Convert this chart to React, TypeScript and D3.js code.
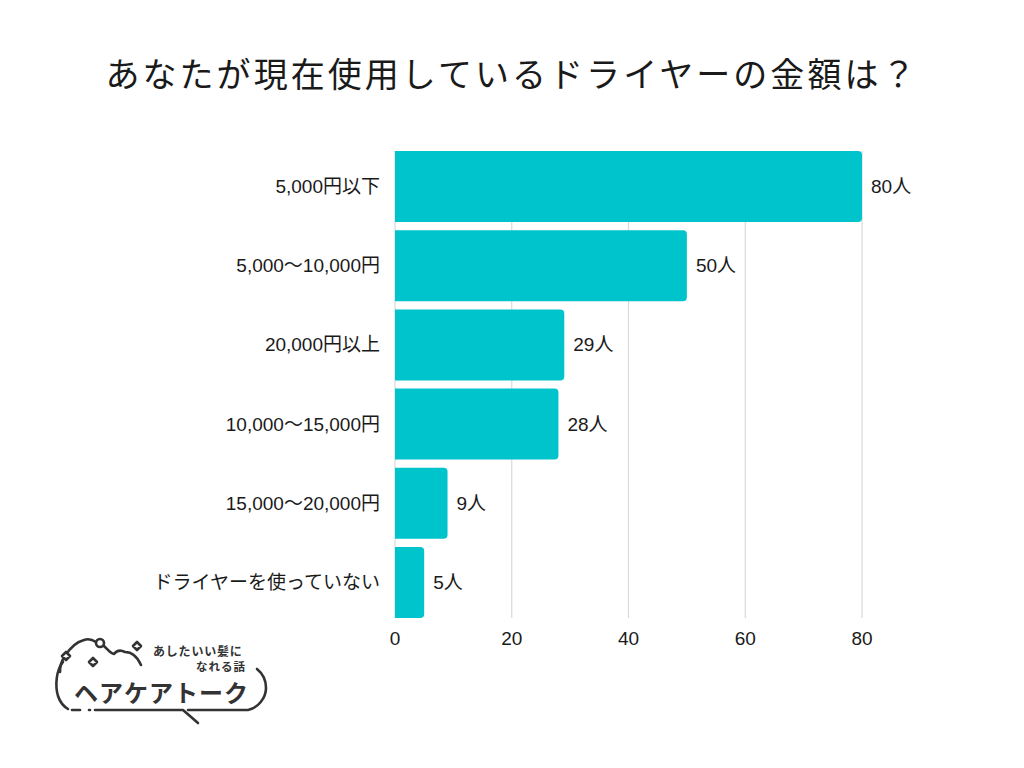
import React from "react";
import * as d3 from "d3";

const title = "あなたが現在使用しているドライヤーの金額は？";
const categories = [
  "5,000円以下",
  "5,000〜10,000円",
  "20,000円以上",
  "10,000〜15,000円",
  "15,000〜20,000円",
  "ドライヤーを使っていない",
];
const values = [80, 50, 29, 28, 9, 5];
const unit = "人";
const ticks = [0, 20, 40, 60, 80];

const BAR = "#00C4CC";
const TEXT = "#1a1a1a";
const FONT = "'Liberation Sans', Arial, 'Noto Sans CJK JP', sans-serif";
const CJK = "'Noto Sans CJK JP', 'Noto Sans', sans-serif";

function barPath(x0: number, x1: number, y0: number, h: number, r: number) {
  const rr = Math.min(r, (x1 - x0) / 2, h / 2);
  const p = d3.path();
  p.moveTo(x0, y0);
  p.lineTo(x1 - rr, y0);
  p.arcTo(x1, y0, x1, y0 + rr, rr);
  p.lineTo(x1, y0 + h - rr);
  p.arcTo(x1, y0 + h, x1 - rr, y0 + h, rr);
  p.lineTo(x0, y0 + h);
  p.closePath();
  return p.toString();
}

function Logo() {
  const c = "#333";
  const sw = 2.6;
  const diamond = (cx: number, cy: number, s: number) =>
    `M${cx},${cy - s}L${cx + s},${cy}L${cx},${cy + s}L${cx - s},${cy}Z`;
  return (
    <g fill="none" stroke={c} strokeWidth={sw} strokeLinecap="round" strokeLinejoin="round">
      {/* cloud top */}
      <path d="M60,672 C60,666 62,660 65,656 C70,648 76,642 84,640 C89,638 93,640 96,642" />
      <path d="M104,646 C108,650 111,654 114,654 C117,650 121,650 125,652 C131,652 137,656 141,665" />
      <circle cx={100} cy={643} r={4} />
      {/* left arc */}
      <path d="M63,662 C56,670 55,686 58,696 C60,702 63,706 68,709" />
      {/* bottom */}
      <path d="M72,710 L80,710" />
      <path d="M89,710 L90,710" />
      <path d="M95,710 L183,710 L198,723" />
      <path d="M188,710 L248,710 C258,708 266,698 266,688 C266,680 262,673 257,669" />
      {/* diamonds */}
      <path d={diamond(66, 656, 4)} fill="#fff" />
      <path d={diamond(93, 662, 4)} />
      <path d={diamond(137, 646, 4)} />
      <g stroke="none" fill={c} fontFamily={CJK} fontWeight={700}>
        <text x={153} y={650} fontSize={12} dominantBaseline="central" letterSpacing={0.8}>あしたいい髪に</text>
        <text x={246} y={665.5} fontSize={11.5} dominantBaseline="central" textAnchor="end" letterSpacing={1}>なれる話</text>
        <text x={74} y={691} fontSize={24} dominantBaseline="central" letterSpacing={1}>ヘアケアトーク</text>
      </g>
    </g>
  );
}

export default function App() {
  const W = 1024;
  const H = 768;
  const x = d3.scaleLinear().domain([0, 80]).range([395, 862]);
  const y = d3
    .scaleBand<string>()
    .domain(categories)
    .range([147, 622])
    .paddingInner(0.104)
    .paddingOuter(0.05);
  const gridTop = y(categories[0])!;
  const gridBottom = y(categories[categories.length - 1])! + y.bandwidth();

  return (
    <svg
      width={W}
      height={H}
      viewBox={`0 0 ${W} ${H}`}
      style={{ display: "block", position: "absolute", left: 0, top: 0, background: "#fff" }}
    >
      <rect x={0} y={0} width={W} height={H} fill="#fff" />
      <text
        x={512}
        y={72}
        textAnchor="middle"
        dominantBaseline="central"
        fontFamily={CJK}
        fontSize={34}
        letterSpacing={3.05}
        fill={TEXT}
      >
        {title}
      </text>

      {/* grid */}
      {ticks.map((t) => (
        <line
          key={t}
          x1={x(t)}
          x2={x(t)}
          y1={gridTop}
          y2={gridBottom}
          stroke="#d9d9d9"
          strokeWidth={1.2}
        />
      ))}

      {/* bars */}
      {categories.map((cat, i) => {
        const y0 = y(cat)!;
        const h = y.bandwidth();
        return (
          <g key={cat}>
            <path d={barPath(x(0), x(values[i]), y0, h, 4)} fill={BAR} />
            <text
              x={x(values[i]) + 9}
              y={y0 + h / 2}
              dominantBaseline="central"
              fontFamily={FONT}
              fontSize={19}
              fill={TEXT}
            >
              {values[i]}
              {unit}
            </text>
            <text
              x={380}
              y={y0 + h / 2}
              textAnchor="end"
              dominantBaseline="central"
              fontFamily={FONT}
              fontSize={19}
              fill={TEXT}
            >
              {cat}
            </text>
          </g>
        );
      })}

      {/* x tick labels */}
      {ticks.map((t) => (
        <text
          key={t}
          x={x(t)}
          y={638.5}
          textAnchor="middle"
          dominantBaseline="central"
          fontFamily={FONT}
          fontSize={19}
          fill={TEXT}
        >
          {t}
        </text>
      ))}

      <Logo />
    </svg>
  );
}
